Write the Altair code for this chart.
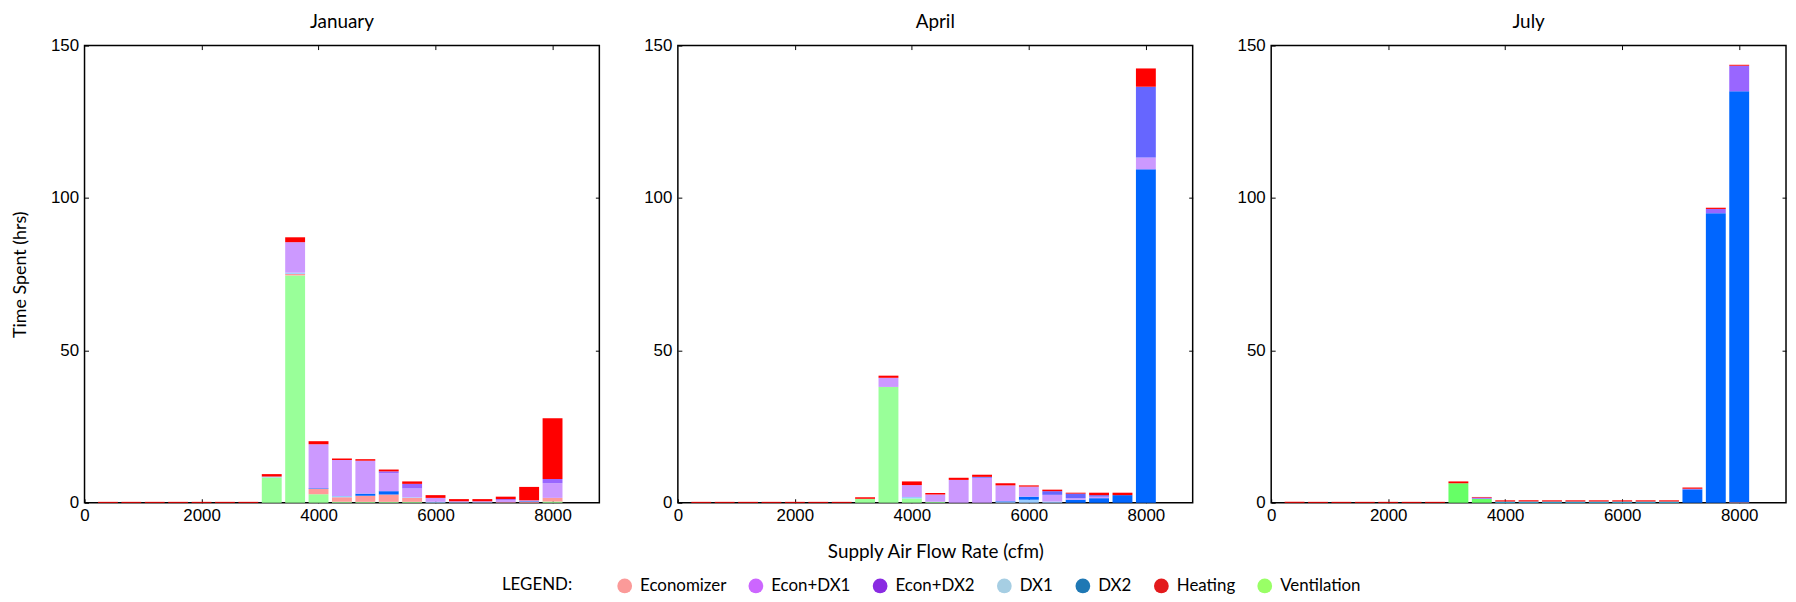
import altair as alt
import pandas as pd

# ---------------- data ----------------
bins = [400, 800, 1200, 1600, 2000, 2400, 2800, 3200, 3600, 4000,
        4400, 4800, 5200, 5600, 6000, 6400, 6800, 7200, 7600, 8000]

stack_order = ["Ventilation", "Economizer", "DX1", "DX2", "Econ+DX1", "Econ+DX2", "Heating"]
legend_order = ["Economizer", "Econ+DX1", "Econ+DX2", "DX1", "DX2", "Heating", "Ventilation"]
legend_colors = ["#fb9a99", "#cc66ff", "#8a2be2", "#a6cee3", "#1f78b4", "#e31a1c", "#99ff66"]

months = ["January", "April", "July"]

# January
jan_ventilation = [0, 0, 0, 0, 0, 0, 0, 8.3, 74.6, 2.8, 0.3, 0.3, 0.3, 0.3, 0, 0, 0, 0, 0, 0.4]
jan_economizer  = [0, 0, 0, 0, 0, 0, 0, 0, 0.5, 1.8, 1.5, 2.0, 2.4, 1.3, 0, 0, 0, 0.2, 0.3, 1.2]
jan_dx1         = [0, 0, 0, 0, 0, 0, 0, 0.3, 0.4, 0, 0.4, 0, 0, 0.2, 0.3, 0.2, 0.2, 0, 0, 0]
jan_dx2         = [0, 0, 0, 0, 0, 0, 0, 0, 0, 0.2, 0, 0.7, 1.1, 0, 0, 0, 0, 0, 0.2, 0]
jan_econ_dx1    = [0, 0, 0, 0, 0, 0, 0, 0, 10.0, 14.4, 11.8, 10.8, 5.9, 2.9, 1.3, 0.3, 0.3, 0.7, 0.3, 4.8]
jan_econ_dx2    = [0, 0, 0, 0, 0, 0, 0, 0, 0, 0, 0, 0, 0.6, 1.5, 0, 0, 0, 0.3, 0, 1.4]
jan_heating     = [0.3, 0.3, 0.3, 0.3, 0.3, 0.3, 0.3, 0.8, 1.6, 1.0, 0.5, 0.5, 0.6, 0.8, 0.9, 0.7, 0.7, 0.8, 4.4, 19.9]

# April
apr_ventilation = [0, 0, 0, 0, 0, 0, 0, 1.3, 38.0, 1.4, 0.3, 0, 0, 0, 0, 0, 0, 0, 0, 0]
apr_economizer  = [0, 0, 0, 0, 0, 0, 0, 0, 0, 0, 0, 0, 0, 0, 0, 0, 0, 0, 0, 0]
apr_dx1         = [0, 0, 0, 0, 0, 0, 0, 0, 0, 0.5, 0, 0, 0, 0.3, 1.0, 0.4, 0, 0, 0, 0]
apr_dx2         = [0, 0, 0, 0, 0, 0, 0, 0, 0, 0, 0, 0, 0, 0.2, 1.0, 0, 1.0, 1.5, 2.5, 109.4]
apr_econ_dx1    = [0, 0, 0, 0, 0, 0, 0, 0, 3.0, 3.9, 2.4, 7.5, 8.2, 5.2, 3.3, 2.2, 0.5, 0.5, 0, 3.9]
apr_econ_dx2    = [0, 0, 0, 0, 0, 0, 0, 0, 0, 0, 0, 0, 0.3, 0, 0, 1.2, 1.5, 0.5, 0, 23.2]
apr_heating     = [0.3, 0.3, 0.3, 0.3, 0.3, 0.3, 0.3, 0.5, 0.7, 1.2, 0.5, 0.7, 0.7, 0.7, 0.4, 0.5, 0.3, 0.8, 0.8, 6.0]

# July
jul_ventilation = [0, 0, 0, 0, 0, 0, 0, 6.4, 1.3, 0, 0, 0, 0, 0, 0, 0, 0, 0, 0, 0]
jul_economizer  = [0, 0, 0, 0, 0, 0, 0, 0, 0, 0, 0, 0, 0, 0, 0, 0, 0, 0, 0, 0.2]
jul_dx1         = [0, 0, 0, 0, 0, 0, 0, 0, 0, 0.4, 0.4, 0.4, 0.4, 0.4, 0.4, 0.4, 0.4, 0, 0, 0]
jul_dx2         = [0, 0, 0, 0, 0, 0, 0, 0, 0, 0, 0, 0, 0, 0, 0, 0, 0, 4.4, 95.0, 134.8]
jul_econ_dx1    = [0, 0, 0, 0, 0, 0, 0, 0, 0, 0, 0, 0, 0, 0, 0, 0, 0, 0, 0, 0]
jul_econ_dx2    = [0, 0, 0, 0, 0, 0, 0, 0, 0.4, 0, 0, 0, 0, 0, 0, 0, 0, 0.2, 1.4, 8.4]
jul_heating     = [0.3, 0.3, 0.3, 0.3, 0.3, 0.3, 0.3, 0.6, 0.2, 0.4, 0.4, 0.4, 0.4, 0.4, 0.4, 0.4, 0.4, 0.4, 0.4, 0.3]

series = {
    "January": {"Ventilation": jan_ventilation, "Economizer": jan_economizer, "DX1": jan_dx1,
                "DX2": jan_dx2, "Econ+DX1": jan_econ_dx1, "Econ+DX2": jan_econ_dx2, "Heating": jan_heating},
    "April": {"Ventilation": apr_ventilation, "Economizer": apr_economizer, "DX1": apr_dx1,
              "DX2": apr_dx2, "Econ+DX1": apr_econ_dx1, "Econ+DX2": apr_econ_dx2, "Heating": apr_heating},
    "July": {"Ventilation": jul_ventilation, "Economizer": jul_economizer, "DX1": jul_dx1,
             "DX2": jul_dx2, "Econ+DX1": jul_econ_dx1, "Econ+DX2": jul_econ_dx2, "Heating": jul_heating},
}

# bar fill colours per panel (as drawn in the bars)
bar_colors = {
    "January": ["#99ff99", "#ff9999", "#99ccff", "#0066ff", "#cc99ff", "#9966ff", "#ff0000"],
    "April":   ["#99ff99", "#ff9999", "#99ccff", "#0066ff", "#cc99ff", "#6666ff", "#ff0000"],
    "July":    ["#66ff66", "#ff9999", "#33ccff", "#0066ff", "#cc99ff", "#9966ff", "#ff0000"],
}

rows = []
for m in months:
    for mode in stack_order:
        for b, v in zip(bins, series[m][mode]):
            rows.append({"month": m, "cfm": b, "mode": mode, "hrs": v,
                         "order": stack_order.index(mode)})
df = pd.DataFrame(rows)

TICK_FONT = "Liberation Sans"
TEXT_FONT = "Lato"
FS = 17
TITLE_FS = 19

xscale = alt.Scale(domain=[0, 8800], nice=False, zero=False)
yscale = alt.Scale(domain=[0, 150], nice=False)


def panel(month, idx):
    base = (
        alt.Chart(df[df["month"] == month])
        .transform_filter("datum.hrs > 0")
        .transform_calculate(x0="datum.cfm - 170", x1="datum.cfm + 170")
        .transform_stack(stack="hrs", groupby=["cfm"], as_=["y0", "y1"],
                         sort=[alt.SortField("order", order="ascending")])
    )
    xaxis = alt.Axis(values=[0, 2000, 4000, 6000, 8000], format="d", domain=False, grid=False,
                     tickSize=4, offset=-4, tickColor="black", labelPadding=5,
                     labelFont=TICK_FONT, labelFontSize=FS, labelColor="black",
                     labelFlush=False, labelOverlap=False,
                     title="Supply Air Flow Rate (cfm)" if idx == 1 else None,
                     titleFont=TEXT_FONT, titleFontSize=TITLE_FS, titleFontWeight="normal",
                     titleColor="black", titlePadding=19)
    yaxis = alt.Axis(values=[0, 50, 100, 150], domain=False, grid=False,
                     tickSize=4, offset=-4, tickColor="black", labelPadding=6,
                     labelFont=TICK_FONT, labelFontSize=FS, labelColor="black",
                     labelFlush=False, labelOverlap=False,
                     title="Time Spent (hrs)" if idx == 0 else None,
                     titleFont=TEXT_FONT, titleFontSize=18, titleFontWeight="normal",
                     titleColor="black", titlePadding=21)
    bars = base.mark_bar().encode(
        x=alt.X("x0:Q", scale=xscale, axis=xaxis),
        x2="x1:Q",
        y=alt.Y("y0:Q", scale=yscale, axis=yaxis),
        y2="y1:Q",
        fill=alt.Fill("mode:N", scale=alt.Scale(domain=stack_order, range=bar_colors[month]),
                      legend=None),
    )
    mirror = base.mark_point(opacity=0).encode(
        x=alt.X("x0:Q", scale=xscale,
                axis=alt.Axis(orient="top", values=[2000, 4000, 6000, 8000], labels=False,
                              domain=False, grid=False, tickSize=4, offset=-4,
                              tickColor="black", title=None)),
        y=alt.Y("y1:Q", scale=yscale,
                axis=alt.Axis(orient="right", values=[50, 100], labels=False,
                              domain=False, grid=False, tickSize=4, offset=-4,
                              tickColor="black", title=None)),
    )
    leg = alt.Chart(df[df["month"] == month]).mark_circle(opacity=0).encode(
        color=alt.Color("mode:N",
                        scale=alt.Scale(domain=legend_order, range=legend_colors),
                        legend=alt.Legend(title="LEGEND:", orient="none",
                                          legendX=420, legendY=535,
                                          direction="horizontal",
                                          titleOrient="left", titleFont=TEXT_FONT,
                                          titleFontSize=FS, titleFontWeight="normal",
                                          titleColor="black", titlePadding=44,
                                          labelFont=TEXT_FONT, labelFontSize=FS,
                                          labelColor="black", symbolType="circle",
                                          symbolSize=220, symbolOpacity=1,
                                          symbolStrokeWidth=0, labelOffset=7,
                                          columnPadding=21)),
    )
    return (
        alt.layer(bars, mirror, leg)
        .resolve_axis(x="independent", y="independent")
        .properties(width=518, height=460,
                    title=alt.TitleParams(month, font=TEXT_FONT, fontSize=TITLE_FS,
                                          fontWeight="normal", color="black", offset=5))
    )


chart = (
    alt.hconcat(*[panel(m, i) for i, m in enumerate(months)], spacing=41)
    .resolve_scale(fill="independent")
    .properties(padding={"left": 2, "top": 2, "right": 0, "bottom": 0})
    .configure_view(stroke="black", strokeWidth=1.5)
)

chart.save("out.html", embed_options={"renderer": "svg", "actions": False})
